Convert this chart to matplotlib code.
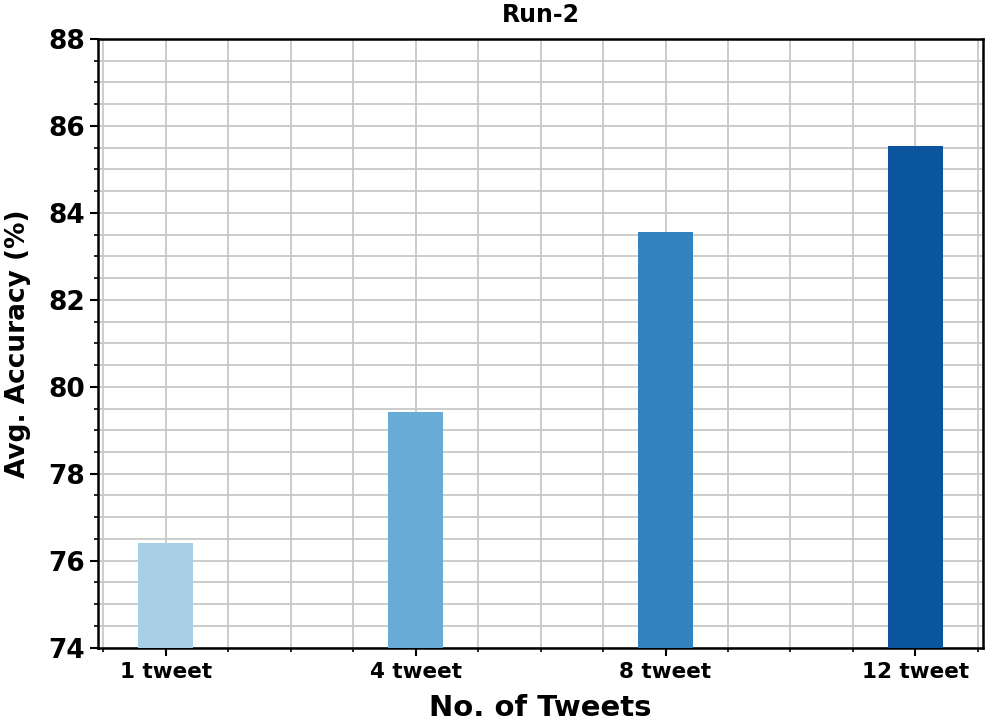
import numpy as np
import matplotlib
matplotlib.use('Agg')
import matplotlib.pyplot as plt
from matplotlib.ticker import MultipleLocator

# Dados do gráfico
categorias = ['1 tweet', '4 tweet', '8 tweet', '12 tweet']
acuracia = [76.41, 79.42, 83.55, 85.55]
cores = ['#a9cfe5', '#67abd6', '#3383c0', '#0b559f']

plt.rcParams['font.family'] = 'DejaVu Sans'
plt.rcParams['font.weight'] = 'bold'

fig, ax = plt.subplots(figsize=(9.91, 7.22), dpi=100)
x = np.arange(len(categorias))
ax.bar(x, acuracia, width=0.22, color=cores, zorder=3)

ax.set_ylim(74, 88)
ax.set_xticks(x)
ax.set_xticklabels(categorias, fontsize=15.5, fontweight='bold')
ax.xaxis.set_minor_locator(MultipleLocator(0.25))
ax.yaxis.set_major_locator(MultipleLocator(2))
ax.yaxis.set_minor_locator(MultipleLocator(0.5))
for lbl in ax.get_yticklabels():
    lbl.set_fontsize(19)
    lbl.set_fontweight('bold')

ax.tick_params(axis='both', which='major', length=6, width=1.5)
ax.tick_params(axis='both', which='minor', length=3, width=1.2)
ax.tick_params(axis='x', which='major', pad=4)
ax.grid(True, which='both', color='#c8c8c8', linewidth=1.3, zorder=0)
ax.set_axisbelow(True)
for s in ax.spines.values():
    s.set_linewidth(1.8)

ax.set_title('Run-2', fontsize=17, fontweight='bold', pad=12)
ax.set_xlabel('No. of Tweets', fontsize=21, fontweight='bold', labelpad=9)
ax.set_ylabel('Avg. Accuracy (%)', fontsize=19, fontweight='bold', labelpad=12)

plt.subplots_adjust(left=0.099, right=0.992, top=0.946, bottom=0.103)
plt.savefig('out.png', dpi=100)
